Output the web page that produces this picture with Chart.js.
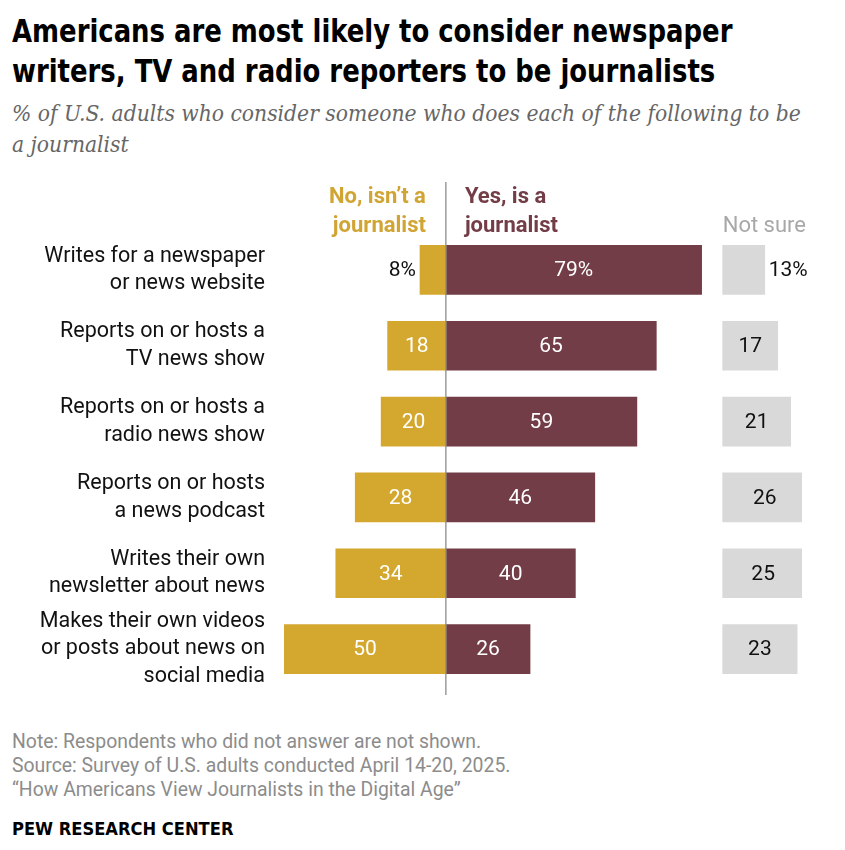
<!DOCTYPE html>
<html>
<head>
<meta charset="utf-8">
<script src="https://cdn.jsdelivr.net/npm/chart.js@4/dist/chart.umd.min.js"></script>
<style>
  html, body { margin: 0; padding: 0; background: #fff; }
  body { width: 845px; height: 850px; position: relative; overflow: hidden; }
  #title { position: absolute; left: 12px; top: 11px; width: 920px; white-space: nowrap;
    font-family: "DejaVu Sans Condensed", "Liberation Sans Narrow", sans-serif; font-weight: bold;
    font-size: 32px; line-height: 40px; color: #000; transform: scaleX(0.9); transform-origin: left top; }
  #subtitle { position: absolute; left: 12px; top: 98px; width: 800px;
    font-family: "DejaVu Serif Condensed", "Liberation Serif", serif; font-style: italic;
    font-size: 22.6px; line-height: 31px; color: #666; }
  #chartWrap { position: absolute; left: 0; top: 175px; width: 845px; height: 530px; }
  #notes { position: absolute; left: 12px; top: 730px; font-family: Roboto, sans-serif;
    font-size: 19.4px; line-height: 24px; color: #8c8c8c; }
  #pew { position: absolute; left: 12px; top: 818px; font-family: "DejaVu Sans Condensed", sans-serif;
    font-weight: bold; font-size: 18.5px; color: #000; transform: scaleX(0.98); transform-origin: left top; }
</style>
</head>
<body>
<div id="title">Americans are most likely to consider newspaper<br>writers, TV and radio reporters to be journalists</div>
<div id="subtitle">% of U.S. adults who consider someone who does each of the following to be a journalist</div>
<div id="chartWrap"><canvas id="c" width="845" height="530"></canvas></div>
<div id="notes">Note: Respondents who did not answer are not shown.<br>Source: Survey of U.S. adults conducted April 14-20, 2025.<br>“How Americans View Journalists in the Digital Age”</div>
<div id="pew">PEW RESEARCH CENTER</div>
<script>
const categories = [
  ["Writes for a newspaper", "or news website"],
  ["Reports on or hosts a", "TV news show"],
  ["Reports on or hosts a", "radio news show"],
  ["Reports on or hosts", "a news podcast"],
  ["Writes their own", "newsletter about news"],
  ["Makes their own videos", "or posts about news on", "social media"]
];
const noValues = [8, 18, 20, 28, 34, 50];
const yesValues = [79, 65, 59, 46, 40, 26];
const notSureValues = [13, 17, 21, 26, 25, 23];
const seriesNames = [["No, isn\u2019t a", "journalist"], ["Yes, is a", "journalist"], ["Not sure"]];

const NOT_SURE_START = 85.5; // where the separate "Not sure" column begins on the value axis
const GOLD = "#D4A82F", MAROON = "#733D47", GRAY = "#D9D9D9";
const FONT = "Roboto, sans-serif";

const labelPlugin = {
  id: "labels",
  afterDatasetsDraw(chart) {
    const ctx = chart.ctx;
    const xs = chart.scales.x;
    const area = chart.chartArea;
    const zero = xs.getPixelForValue(0);
    ctx.save();
    // center line
    ctx.strokeStyle = "#8c8c8c";
    ctx.lineWidth = 1.3;
    ctx.beginPath();
    ctx.moveTo(zero, 7);
    ctx.lineTo(zero, area.bottom + 8);
    ctx.stroke();

    // category labels
    ctx.fillStyle = "#111";
    ctx.font = "21.5px " + FONT;
    ctx.textAlign = "right";
    ctx.textBaseline = "middle";
    const meta0 = chart.getDatasetMeta(0);
    meta0.data.forEach((el, i) => {
      const lines = categories[i];
      const lh = 27.5;
      const y0 = el.y - (lines.length - 1) * lh / 2;
      lines.forEach((ln, k) => ctx.fillText(ln, area.left - 19, y0 + k * lh));
    });

    // value labels
    ctx.font = "21px " + FONT;
    chart.data.datasets.forEach((ds, di) => {
      const meta = chart.getDatasetMeta(di);
      meta.data.forEach((el, i) => {
        const first = i === 0;
        let txt, x, align, color;
        const left = Math.min(el.x, el.base), right = Math.max(el.x, el.base);
        if (di === 0) {
          txt = noValues[i] + (first ? "%" : "");
          if (right - left < 40) { x = left - 4; align = "right"; color = "#111"; }
          else { x = (left + right) / 2; align = "center"; color = "#fff"; }
        } else if (di === 1) {
          txt = yesValues[i] + (first ? "%" : "");
          x = (left + right) / 2; align = "center"; color = "#fff";
        } else {
          txt = notSureValues[i] + (first ? "%" : "");
          if (right - left < 50) { x = right + 4; align = "left"; color = "#111"; }
          else { x = (left + right) / 2; align = "center"; color = "#111"; }
        }
        ctx.fillStyle = color;
        ctx.textAlign = align;
        ctx.fillText(txt, x, el.y + 1);
      });
    });

    // headers
    ctx.textBaseline = "middle";
    ctx.font = "bold 22px " + FONT;
    ctx.fillStyle = "#D1A533";
    ctx.textAlign = "right";
    ctx.fillText(seriesNames[0][0], zero - 20, 22);
    ctx.fillText(seriesNames[0][1], zero - 20, 51);
    ctx.fillStyle = MAROON;
    ctx.textAlign = "left";
    ctx.fillText(seriesNames[1][0], zero + 19, 22);
    ctx.fillText(seriesNames[1][1], zero + 19, 51);
    ctx.font = "22px " + FONT;
    ctx.fillStyle = "#a8a8a8";
    ctx.fillText(seriesNames[2][0], xs.getPixelForValue(NOT_SURE_START), 51);
    ctx.restore();
  }
};

new Chart(document.getElementById("c"), {
  type: "bar",
  data: {
    labels: categories.map(c => c.join(" ")),
    datasets: [
      { label: "No", data: noValues.map(v => -v), backgroundColor: GOLD },
      { label: "Yes", data: yesValues, backgroundColor: MAROON },
      { label: "Not sure", data: notSureValues.map(v => [NOT_SURE_START, NOT_SURE_START + v]), backgroundColor: GRAY }
    ]
  },
  options: {
    indexAxis: "y",
    responsive: false,
    animation: false,
    devicePixelRatio: 1,
    layout: { padding: { left: 284, right: 43, top: 57, bottom: 18 } },
    datasets: { bar: { grouped: false, barThickness: 49, borderWidth: 0 } },
    scales: {
      x: { display: false, min: -50, max: 110 },
      y: { display: false }
    },
    plugins: { legend: { display: false }, tooltip: { enabled: false } }
  },
  plugins: [labelPlugin]
});
</script>
</body>
</html>
